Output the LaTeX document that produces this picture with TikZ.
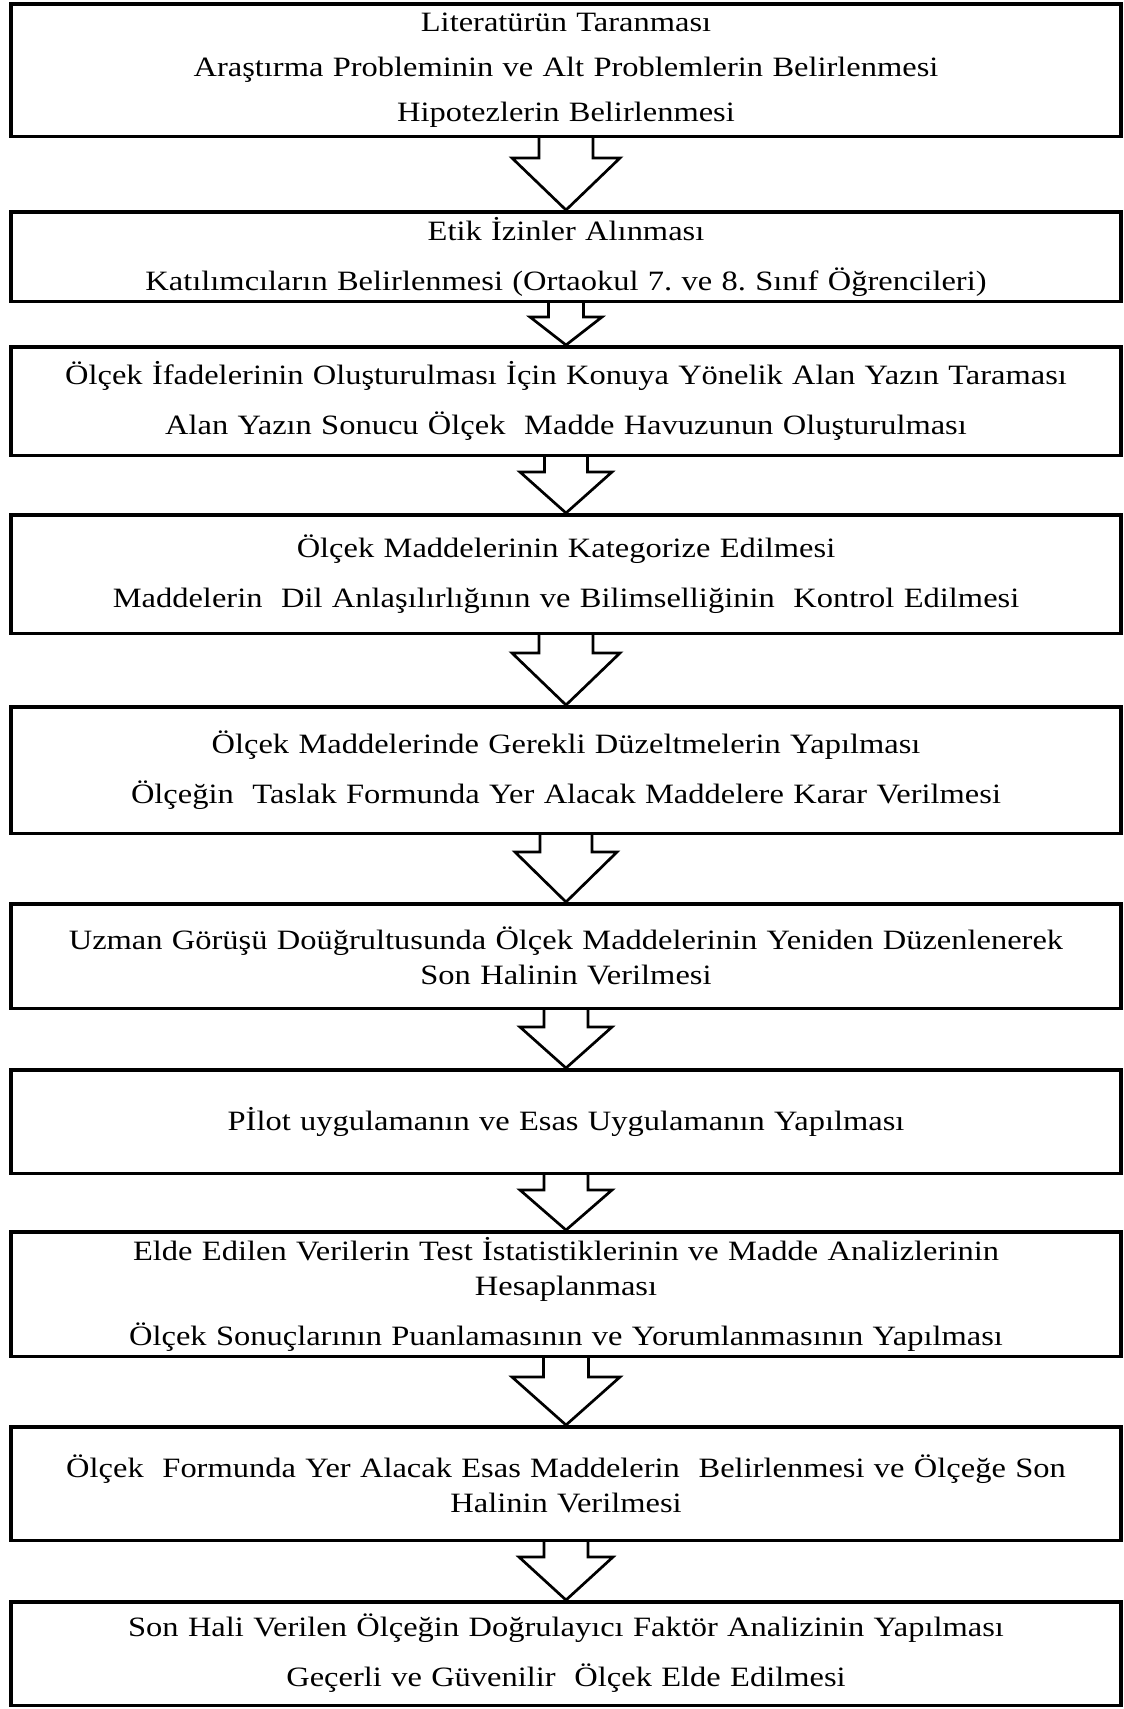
\documentclass[tikz,border=0pt]{standalone}
\usepackage{fontspec}
\setmainfont{Liberation Serif}[FakeStretch=1.16]
\usetikzlibrary{calc}
\frenchspacing
\tikzset{
  box/.style={draw, line width=3.5pt, minimum width=1110pt, inner sep=0pt,
    align=center, text width=1100pt, font=\fontsize{28}{35}\selectfont},
  arr/.style={draw, line width=2.7pt, line join=miter}
}
\newcommand\flowarrow[5]{%
  \draw[arr] ($(#1.south)+(-#3,0)$) -- ++(0,#5) -- ($(#1.south)+(-#4,#5)$)
    -- (#2.north) -- ($(#1.south)+(#4,#5)$) -- ($(#1.south)+(#3,#5)$)
    -- ($(#1.south)+(#3,0)$);}
\newcommand\pgap{\\[15pt]}
\begin{document}
\begin{tikzpicture}[x=1pt,y=-1pt]
\useasboundingbox (0,0) rectangle (1124,1709);
\node[box, minimum height=132.5pt] (b1) at (566,70)
  {Literatürün Taranması\\[10pt] Araştırma Probleminin ve Alt Problemlerin Belirlenmesi\\[10pt] Hipotezlerin Belirlenmesi};
\node[box, minimum height=89.5pt] (b2) at (566,256.5)
  {Etik İzinler Alınması\pgap Katılımcıların Belirlenmesi (Ortaokul 7. ve 8. Sınıf Öğrencileri)};
\node[box, minimum height=108.5pt] (b3) at (566,401)
  {Ölçek İfadelerinin Oluşturulması İçin Konuya Yönelik Alan Yazın Taraması\pgap Alan Yazın Sonucu Ölçek~ Madde Havuzunun Oluşturulması};
\node[box, minimum height=118.5pt] (b4) at (566,574)
  {Ölçek Maddelerinin Kategorize Edilmesi\pgap Maddelerin~ Dil Anlaşılırlığının ve Bilimselliğinin~ Kontrol Edilmesi};
\node[box, minimum height=126.5pt] (b5) at (566,770)
  {Ölçek Maddelerinde Gerekli Düzeltmelerin Yapılması\pgap Ölçeğin~ Taslak Formunda Yer Alacak Maddelere Karar Verilmesi};
\node[box, minimum height=104.5pt] (b6) at (566,956)
  {Uzman Görüşü Doüğrultusunda Ölçek Maddelerinin Yeniden Düzenlenerek\\ Son Halinin Verilmesi};
\node[box, minimum height=103.5pt] (b7) at (566,1121.5)
  {Pİlot uygulamanın ve Esas Uygulamanın Yapılması};
\node[box, minimum height=124.5pt] (b8) at (566,1294)
  {Elde Edilen Verilerin Test İstatistiklerinin ve Madde Analizlerinin\\ Hesaplanması\pgap Ölçek Sonuçlarının Puanlamasının ve Yorumlanmasının Yapılması};
\node[box, minimum height=113.5pt] (b9) at (566,1483.5)
  {Ölçek~ Formunda Yer Alacak Esas Maddelerin~ Belirlenmesi ve Ölçeğe Son\\ Halinin Verilmesi};
\node[box, minimum height=103.5pt] (b10) at (566,1653.5)
  {Son Hali Verilen Ölçeğin Doğrulayıcı Faktör Analizinin Yapılması\pgap Geçerli ve Güvenilir~ Ölçek Elde Edilmesi};
\flowarrow{b1}{b2}{27}{54}{20}
\flowarrow{b2}{b3}{17.5}{36}{14}
\flowarrow{b3}{b4}{21.5}{46}{15}
\flowarrow{b4}{b5}{27}{54}{18}
\flowarrow{b5}{b6}{26}{51}{17}
\flowarrow{b6}{b7}{22}{46}{17}
\flowarrow{b7}{b8}{22}{46}{15}
\flowarrow{b8}{b9}{22.5}{54}{19}
\flowarrow{b9}{b10}{22}{47}{15}
\end{tikzpicture}
\end{document}
